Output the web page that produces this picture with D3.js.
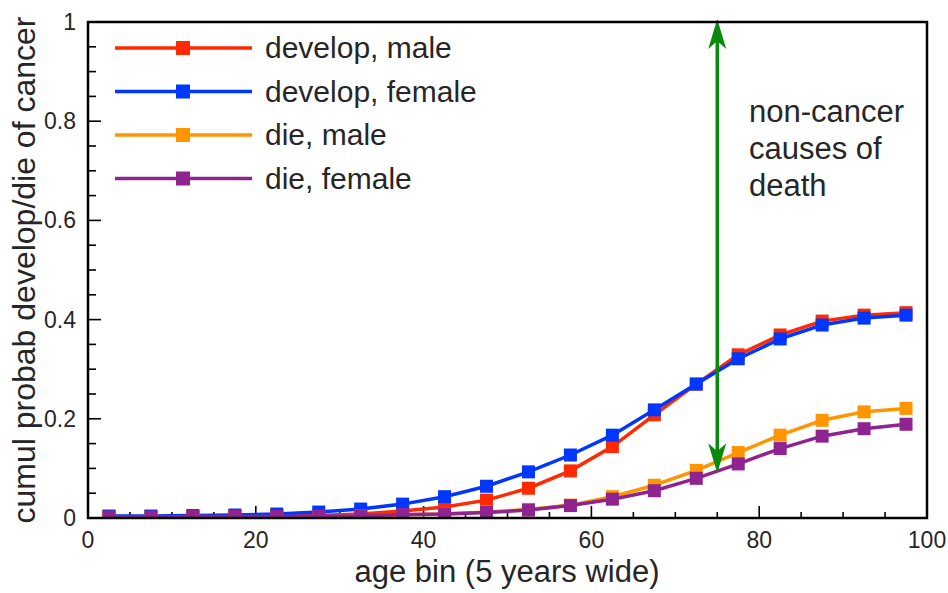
<!DOCTYPE html>
<html>
<head>
<meta charset="utf-8">
<script src="https://cdn.jsdelivr.net/npm/d3@7"></script>
<style>
  body { margin: 0; background: #fff; }
  text { font-family: "Liberation Sans", Arial, sans-serif; fill: #262626; }
</style>
</head>
<body>
<svg id="chart" width="948" height="593"></svg>
<script>
// age bins (centre of each 5 year bin)
const ageBins = [2.5, 7.5, 12.5, 17.5, 22.5, 27.5, 32.5, 37.5, 42.5, 47.5,
                 52.5, 57.5, 62.5, 67.5, 72.5, 77.5, 82.5, 87.5, 92.5, 97.5];

const developMale = [0.003, 0.002, 0.003, 0.003, 0.004, 0.005, 0.008, 0.014, 0.022, 0.036,
                     0.060, 0.095, 0.144, 0.208, 0.270, 0.329, 0.369, 0.397, 0.409, 0.414];
const developFemale = [0.004, 0.004, 0.005, 0.006, 0.008, 0.012, 0.018, 0.028, 0.043, 0.064,
                       0.093, 0.127, 0.167, 0.218, 0.270, 0.321, 0.361, 0.389, 0.403, 0.409];
const dieMale = [0.001, 0.001, 0.002, 0.002, 0.002, 0.003, 0.004, 0.006, 0.008, 0.012,
                 0.017, 0.026, 0.043, 0.066, 0.096, 0.132, 0.167, 0.197, 0.214, 0.221];
const dieFemale = [0.002, 0.002, 0.003, 0.003, 0.003, 0.004, 0.004, 0.007, 0.008, 0.011,
                   0.016, 0.025, 0.038, 0.055, 0.080, 0.109, 0.140, 0.165, 0.180, 0.189];

const seriesNames = ["develop, male", "develop, female", "die, male", "die, female"];
const seriesColors = ["#ff2a00", "#0037ff", "#ff9500", "#8f2390"];

const xTicks = [0, 20, 40, 60, 80, 100];
const yTicks = [0, 0.2, 0.4, 0.6, 0.8, 1];

// the green arrow: age 75, from the die curves up to 1
const arrowAge = 75;
const arrowRange = [0.09, 1.0];
const noteLines = ["non-cancer", "causes of", "death"];

const series = [developMale, developFemale, dieMale, dieFemale].map((vals, i) => ({
    name: seriesNames[i],
    color: seriesColors[i],
    points: vals.map((v, j) => ({ x: ageBins[j], y: v }))
}));

const svg = d3.select("#chart");
const margin = { left: 88, right: 21, top: 22, bottom: 75 };
const width = 948 - margin.left - margin.right;
const height = 593 - margin.top - margin.bottom;

const x = d3.scaleLinear().domain([0, 100]).range([0, width]);
const y = d3.scaleLinear().domain([0, 1]).range([height, 0]);

const g = svg.append("g").attr("transform", `translate(${margin.left},${margin.top})`);

g.append("clipPath").attr("id", "plot-clip")
    .append("rect").attr("width", width).attr("height", height);

// minor + major ticks, pointing inward
const xMinor = d3.range(0, 101, 5);
const yMinor = d3.range(0, 1.0001, 0.05);

g.append("g").selectAll("line")
    .data(xMinor)
    .join("line")
    .attr("x1", d => x(d)).attr("x2", d => x(d))
    .attr("y1", height)
    .attr("y2", d => height - (xTicks.includes(d) ? 12 : 6))
    .attr("stroke", "#000").attr("stroke-width", 1.6);

g.append("g").selectAll("line")
    .data(yMinor)
    .join("line")
    .attr("y1", d => y(d)).attr("y2", d => y(d))
    .attr("x1", 0)
    .attr("x2", d => (Math.abs(d * 5 - Math.round(d * 5)) < 1e-6 ? 13 : 8))
    .attr("stroke", "#000").attr("stroke-width", 1.6);

// tick labels
g.append("g").selectAll("text")
    .data(xTicks)
    .join("text")
    .attr("x", d => x(d)).attr("y", height + 30)
    .attr("text-anchor", "middle")
    .style("font-size", "23px")
    .text(d => d);

g.append("g").selectAll("text")
    .data(yTicks)
    .join("text")
    .attr("x", -12).attr("y", d => y(d) + 8)
    .attr("text-anchor", "end")
    .style("font-size", "23px")
    .text(d => d);

// axis titles
svg.append("text")
    .attr("x", 507).attr("y", 582)
    .attr("text-anchor", "middle")
    .style("font-size", "31px")
    .text("age bin (5 years wide)");

svg.append("text")
    .attr("transform", "translate(35,270) rotate(-90)")
    .attr("text-anchor", "middle")
    .style("font-size", "32px")
    .text("cumul probab develop/die of cancer");

// data lines and square markers
const line = d3.line().x(d => x(d.x)).y(d => y(d.y));
const plot = g.append("g").attr("clip-path", "url(#plot-clip)");
const msize = 13;

series.forEach(s => {
    plot.append("path")
        .datum(s.points)
        .attr("fill", "none")
        .attr("stroke", s.color)
        .attr("stroke-width", 3.5)
        .attr("d", line);
    plot.append("g").selectAll("rect")
        .data(s.points)
        .join("rect")
        .attr("x", d => x(d.x) - msize / 2)
        .attr("y", d => y(d.y) - msize / 2)
        .attr("width", msize).attr("height", msize)
        .attr("fill", s.color);
});

// double-headed green arrow
const ax = x(arrowAge);
const yLow = y(arrowRange[0]);
const yHigh = y(arrowRange[1]) - 3;
const headLen = 30, headW = 9, notch = 8;
g.append("line")
    .attr("x1", ax).attr("x2", ax)
    .attr("y1", yLow - headLen + notch).attr("y2", yHigh + headLen - notch)
    .attr("stroke", "#0a8a0a").attr("stroke-width", 3.5);
[[yHigh, 1], [yLow, -1]].forEach(([tip, dir]) => {
    g.append("path")
        .attr("d", `M${ax},${tip} L${ax + headW},${tip + dir * headLen} L${ax},${tip + dir * (headLen - notch)} L${ax - headW},${tip + dir * headLen} Z`)
        .attr("fill", "#0a8a0a");
});

// annotation
g.append("text")
    .attr("x", 661).attr("y", 100)
    .style("font-size", "31px")
    .selectAll("tspan")
    .data(noteLines)
    .join("tspan")
    .attr("x", 661)
    .attr("dy", (d, i) => i === 0 ? 0 : 37)
    .text(d => d);

// legend
const legend = g.append("g").attr("transform", "translate(27,26)");
const rowH = 43.5;
series.forEach((s, i) => {
    const row = legend.append("g").attr("transform", `translate(0,${i * rowH})`);
    row.append("line")
        .attr("x1", 0).attr("x2", 137)
        .attr("stroke", s.color).attr("stroke-width", 3.5);
    row.append("rect")
        .attr("x", 68 - 7).attr("y", -7)
        .attr("width", 14).attr("height", 14)
        .attr("fill", s.color);
    row.append("text")
        .attr("x", 150).attr("y", 10)
        .style("font-size", "30px")
        .text(s.name);
});

// frame
g.append("rect")
    .attr("width", width).attr("height", height)
    .attr("fill", "none")
    .attr("stroke", "#000").attr("stroke-width", 2.5);
</script>
</body>
</html>
